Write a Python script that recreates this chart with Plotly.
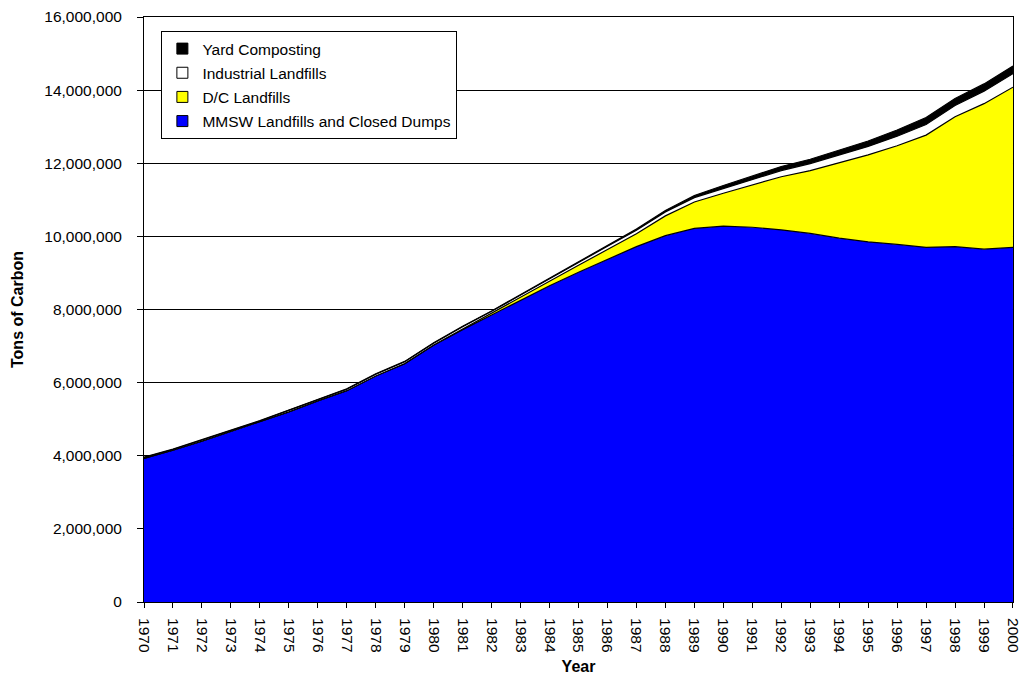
import plotly.graph_objects as go

# Carbon stored by landfill type, tons of carbon, 1970-2000
years = list(range(1970, 2001))

mmsw = [3.93, 4.15, 4.40, 4.66, 4.92, 5.20, 5.50, 5.78, 6.18, 6.52,
        7.02, 7.45, 7.85, 8.25, 8.65, 9.02, 9.38, 9.72, 10.02, 10.22,
        10.28, 10.25, 10.18, 10.08, 9.95, 9.85, 9.78, 9.70, 9.72, 9.65, 9.70]
dc = [0.00, 0.00, 0.00, 0.00, 0.00, 0.00, 0.00, 0.00, 0.00, 0.00,
      0.01, 0.02, 0.04, 0.08, 0.13, 0.19, 0.26, 0.35, 0.54, 0.72,
      0.90, 1.15, 1.45, 1.72, 2.06, 2.38, 2.70, 3.07, 3.55, 3.98, 4.38]
industrial = [0.02, 0.02, 0.03, 0.03, 0.03, 0.04, 0.04, 0.04, 0.05, 0.05,
              0.05, 0.06, 0.06, 0.07, 0.07, 0.08, 0.09, 0.10, 0.11, 0.12,
              0.13, 0.15, 0.17, 0.19, 0.21, 0.23, 0.26, 0.29, 0.31, 0.34, 0.37]
yard = [0.01, 0.01, 0.01, 0.01, 0.01, 0.01, 0.01, 0.01, 0.01, 0.01,
        0.01, 0.01, 0.01, 0.01, 0.02, 0.02, 0.02, 0.03, 0.04, 0.06,
        0.08, 0.09, 0.11, 0.12, 0.14, 0.15, 0.17, 0.19, 0.19, 0.20, 0.21]

series = [
    ("MMSW Landfills and Closed Dumps", mmsw, "#0000ff"),
    ("D/C Landfills", dc, "#ffff00"),
    ("Industrial Landfills", industrial, "#ffffff"),
    ("Yard Composting", yard, "#000000"),
]

fig = go.Figure()
for name, vals, col in series:
    fig.add_trace(go.Scatter(
        x=years, y=[v * 1e6 for v in vals], name=name,
        mode="lines", stackgroup="one", showlegend=False,
        line=dict(color="black", width=1.2),
        fillcolor=col))

# legend entries with square swatches, top series first
for name, vals, col in reversed(series):
    fig.add_trace(go.Scatter(
        x=[None], y=[None], name=name, mode="markers", legendgroup=name,
        marker=dict(symbol="square", size=11, color=col,
                    line=dict(color="black", width=1))))

font = dict(family="Liberation Sans, Arial, sans-serif", size=15, color="black")

fig.update_layout(
    width=1021, height=679,
    margin=dict(l=144, r=8, t=17, b=77),
    paper_bgcolor="white", plot_bgcolor="white",
    font=font,
    showlegend=True,
    legend=dict(x=0.02, y=0.976, xanchor="left", yanchor="top",
                traceorder="grouped", bordercolor="black", borderwidth=1,
                bgcolor="white", font=dict(size=15.5), tracegroupgap=1,
                itemwidth=30),
)
fig.update_xaxes(
    range=[1969.999, 2000.001], tickmode="linear", tick0=1970, dtick=1,
    tickangle=90, ticks="outside", ticklen=5, tickcolor="black",
    showgrid=False, showline=True, linecolor="black", linewidth=1, mirror=True,
    title=dict(text="<b>Year</b>", font=dict(size=16), standoff=8),
    tickfont=dict(size=15.5), automargin=False, ticklabelstandoff=7,
    ticklabeloverflow="allow",
)
fig.update_yaxes(
    range=[0, 16e6], dtick=2e6, tickformat=",d",
    ticks="outside", ticklen=6, tickcolor="black",
    showgrid=True, gridcolor="black", gridwidth=1,
    showline=True, linecolor="black", linewidth=1, mirror=True,
    title=dict(text="<b>Tons of Carbon</b>", font=dict(size=16), standoff=16),
    tickfont=dict(size=15.5), zeroline=False, automargin=False,
    ticklabelstandoff=12,
)

# page body has a default 8px margin; drop it so the figure sits at 0,0
fig.write_html("out.html", config={"displayModeBar": False},
               post_script="document.body.style.margin='0';")
